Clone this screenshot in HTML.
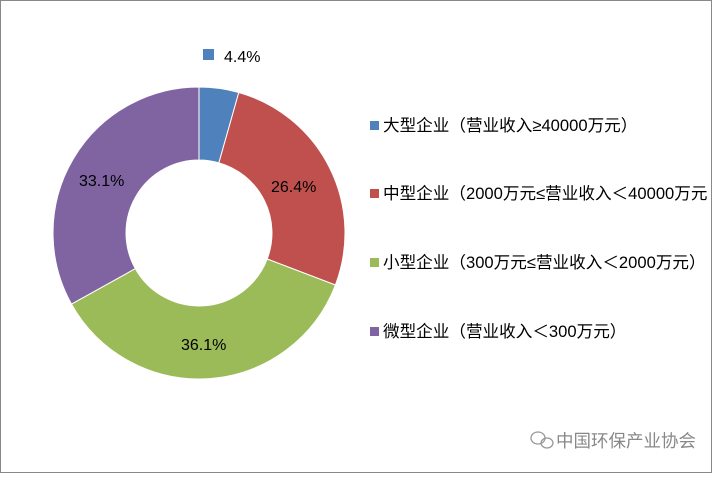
<!DOCTYPE html>
<html><head><meta charset="utf-8"><style>
body{margin:0;background:#fff;}
svg text{font-family:"Liberation Sans","Noto Sans CJK SC",sans-serif;}
</style></head><body>
<svg width="712" height="473" viewBox="0 0 712 473" xmlns="http://www.w3.org/2000/svg">
<rect x="0.5" y="0.5" width="711" height="472" fill="#fff" stroke="#888"/>
<g stroke="#fff" stroke-width="1">
<path d="M199,87 A146,146 0 0 1 238.8,92.5 L218.9,162.8 A73,73 0 0 0 199,160 Z" fill="#4f81bd"/>
<path d="M238.8,92.5 A146,146 0 0 1 335.4,285 L267.2,259 A73,73 0 0 0 218.9,162.8 Z" fill="#c0504d"/>
<path d="M335.4,285 A146,146 0 0 1 71.5,304.1 L135.3,268.6 A73,73 0 0 0 267.2,259 Z" fill="#9bbb59"/>
<path d="M71.5,304.1 A146,146 0 0 1 199,87 L199,160 A73,73 0 0 0 135.3,268.6 Z" fill="#8064a2"/>
</g>
<g font-size="16" fill="#000">
<text x="271" y="192">26.4%</text>
<text x="181" y="350">36.1%</text>
<text x="79" y="186">33.1%</text>
<rect x="203" y="49" width="11" height="11" fill="#4f81bd"/>
<text x="224" y="62">4.4%</text>
</g>
<g font-size="16.6" fill="#000">
<rect x="370" y="121" width="9" height="9" fill="#4f81bd"/>
<text x="383" y="131">大型企业（营业收入≥40000万元）</text>
<rect x="370" y="189" width="9" height="9" fill="#c0504d"/>
<text x="383" y="199">中型企业（2000万元≤营业收入＜40000万元</text>
<rect x="370" y="258" width="9" height="9" fill="#9bbb59"/>
<text x="383" y="268">小型企业（300万元≤营业收入＜2000万元）</text>
<rect x="370" y="327" width="9" height="9" fill="#8064a2"/>
<text x="383" y="337">微型企业（营业收入＜300万元）</text>
</g>
<g fill="none" stroke="#999" stroke-width="1.3">
<ellipse cx="538" cy="438" rx="7" ry="6"/>
<ellipse cx="547" cy="443" rx="6" ry="5"/>
</g>
<text x="556" y="447" font-size="17.5" fill="#888">中国环保产业协会</text>
</svg>
</body></html>
